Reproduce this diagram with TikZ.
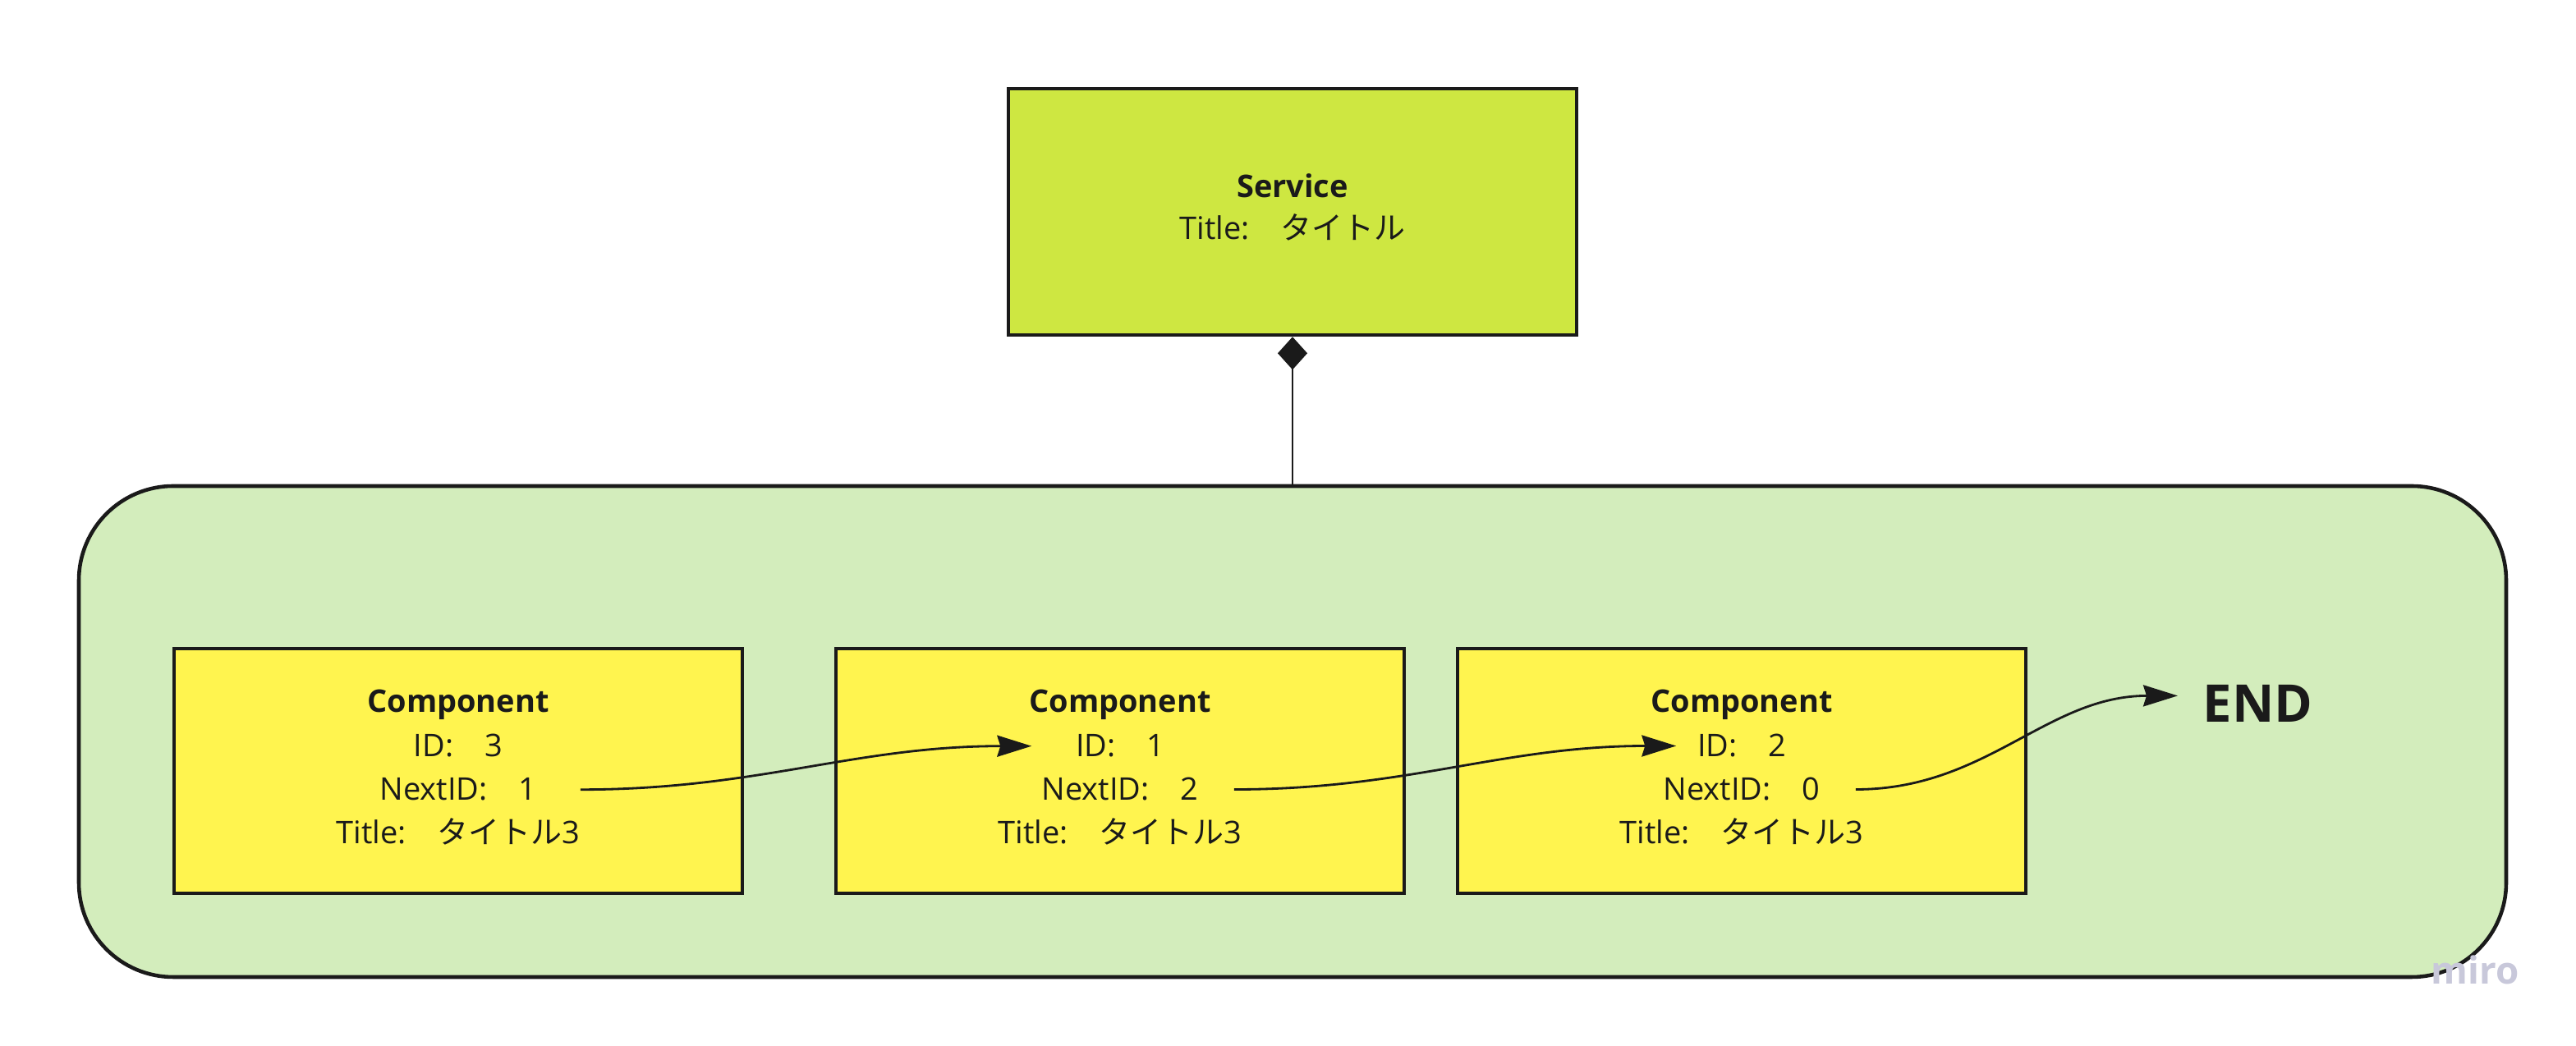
\documentclass[tikz,border=0pt]{standalone}
\usepackage{fontspec}
\setmainfont{Open Sans}
\newfontfamily\jpfont{Noto Sans CJK JP}
\usetikzlibrary{arrows.meta}
\definecolor{serviceFill}{RGB}{206,231,65}
\definecolor{groupFill}{RGB}{211,237,188}
\definecolor{compFill}{RGB}{255,244,79}
\definecolor{ink}{RGB}{26,26,26}
\definecolor{logoGray}{RGB}{200,200,218}

\begin{document}
\begin{tikzpicture}[font=\fontsize{10.8}{13}\selectfont, text=ink]
\useasboundingbox (0,0) rectangle (31.37,12.74);

%style for service box
\tikzstyle{sbox} = [rectangle, fill=serviceFill, draw=ink, line width=1.3pt, minimum width=6.92cm, minimum height=3cm]

%style for group frame
\tikzstyle{frame} = [rectangle, rounded corners=1.15cm, fill=groupFill, draw=ink, line width=1.3pt, minimum width=29.56cm, minimum height=5.98cm]

%style for component box
\tikzstyle{cbox} = [rectangle, fill=compFill, draw=ink, line width=1.3pt, minimum width=6.92cm, minimum height=2.98cm]

%style for text row
\tikzstyle{row} = [inner sep=0pt, anchor=base]

%style for link
\tikzstyle{link} = [-{Stealth[length=4.2mm, width=2.6mm, inset=0.4mm]}, line width=0.8pt, draw=ink]

%place nodes
\node[sbox] (service) at (15.74,10.16) {};
\node[row] (serviceName) at (15.74,10.33) {\textbf{Service}};
\node[row] (serviceTitle) at (15.74,9.82) {Title:\quad{\jpfont タイトル}};

\node[frame] (group) at (15.74,3.83) {};

\node[cbox] (comp1) at (5.58,3.35) {};
\node[row] (comp1Name) at (5.58,4.06) {\textbf{Component}};
\node[row] (comp1Id) at (5.58,3.52) {ID:\quad 3};
\node[row] (comp1Next) at (5.58,2.99) {NextID:\quad 1};
\node[row] (comp1Title) at (5.58,2.46) {Title:\quad{\jpfont タイトル}3};

\node[cbox] (comp2) at (13.64,3.35) {};
\node[row] (comp2Name) at (13.64,4.06) {\textbf{Component}};
\node[row] (comp2Id) at (13.64,3.52) {ID:\quad 1};
\node[row] (comp2Next) at (13.64,2.99) {NextID:\quad 2};
\node[row] (comp2Title) at (13.64,2.46) {Title:\quad{\jpfont タイトル}3};

\node[cbox] (comp3) at (21.21,3.35) {};
\node[row] (comp3Name) at (21.21,4.06) {\textbf{Component}};
\node[row] (comp3Id) at (21.21,3.52) {ID:\quad 2};
\node[row] (comp3Next) at (21.21,2.99) {NextID:\quad 0};
\node[row] (comp3Title) at (21.21,2.46) {Title:\quad{\jpfont タイトル}3};

\node[row, anchor=base west] (endLabel) at (26.82,3.94) {\fontsize{18}{20}\selectfont\bfseries END};

\node[row, anchor=base west, text=logoGray, font=\fontsize{13}{15}\selectfont\bfseries] (miroLogo) at (29.6,0.75) {miro};

\draw[-{Diamond[length=4mm, width=3.6mm]}, line width=0.8pt, draw=ink] (group.north) -- (service.south);

\draw[link] ([xshift=5.3mm]comp1Next.east) to[out=0, in=180] ([xshift=-5.3mm]comp2Id.west);
\draw[link] ([xshift=4.3mm]comp2Next.east) to[out=0, in=180] ([xshift=-2.5mm]comp3Id.west);
\draw[link] ([xshift=4.3mm]comp3Next.east) to[out=0, in=180] ([xshift=-3mm, yshift=1mm]endLabel.west);
\end{tikzpicture}
\end{document}
